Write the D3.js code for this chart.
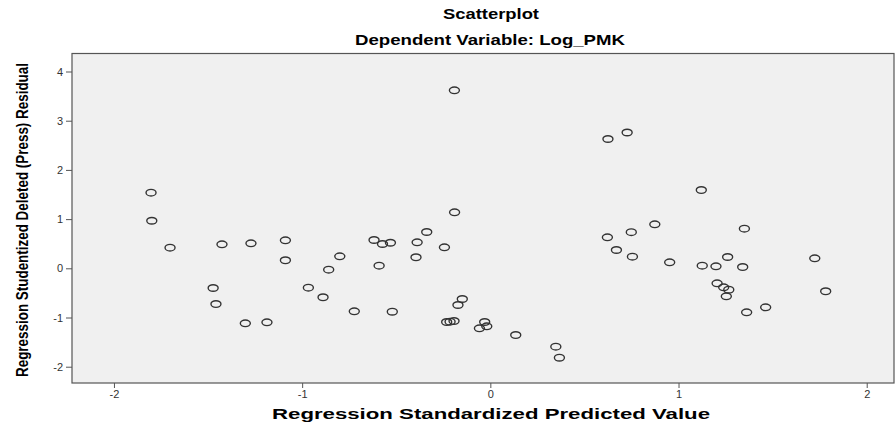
<!DOCTYPE html>
<html>
<head>
<meta charset="utf-8">
<script src="https://cdn.jsdelivr.net/npm/d3@7"></script>
<style>
  body { margin: 0; background: #fff; }
  text { font-family: "Liberation Sans", Arial, sans-serif; }
</style>
</head>
<body>
<div id="graph"></div>
<script>
// values
var predicted = [-1.803, -1.799, -1.702, -1.426, -1.272, -1.089, -1.089, -0.800, -0.859, -0.618,
  -0.573, -0.531, -0.591, -1.473, -1.458, -1.302, -1.187, -0.967, -0.889, -0.723,
  -0.521, -0.190, -0.338, -0.389, -0.244, -0.395, -0.149, -0.172, -0.232, -0.214,
  -0.193, -0.030, -0.019, -0.058, 0.135, 0.348, 0.367, 0.622, 0.749, 0.670,
  0.755, -0.191, 0.625, 0.727, 1.121, 0.874, 1.350, 0.953, 1.126, 1.199,
  1.261, 1.341, 1.724, 1.205, 1.240, 1.267, 1.254, 1.782, 1.463, 1.362];
var residual = [1.537, 0.967, 0.419, 0.488, 0.508, 0.569, 0.163, 0.244, -0.028, 0.575,
  0.494, 0.520, 0.053, -0.400, -0.726, -1.118, -1.098, -0.394, -0.589, -0.874,
  -0.882, 1.138, 0.738, 0.528, 0.427, 0.224, -0.624, -0.746, -1.091, -1.085,
  -1.071, -1.091, -1.179, -1.220, -1.356, -1.593, -1.817, 0.630, 0.734, 0.372,
  0.236, 3.618, 2.628, 2.760, 1.591, 0.894, 0.805, 0.122, 0.053, 0.041,
  0.230, 0.026, 0.203, -0.305, -0.386, -0.435, -0.569, -0.467, -0.793, -0.894];
var xTicks = [-2, -1, 0, 1, 2];
var yTicks = [-2, -1, 0, 1, 2, 3, 4];

var W = 896, H = 425;
var mLeft = 72, mTop = 53.5, plotW = 822, plotH = 329.5;

var svg = d3.select("#graph").append("svg")
  .attr("width", W)
  .attr("height", H);

var x = d3.scaleLinear().domain([-2.223, 2.145]).range([mLeft, mLeft + plotW]);
var y = d3.scaleLinear().domain([-2.331, 4.366]).range([mTop + plotH, mTop]);

// plot background + frame
svg.append("rect")
  .attr("x", mLeft).attr("y", mTop)
  .attr("width", plotW).attr("height", plotH)
  .attr("fill", "#f0f0f0")
  .attr("stroke", "#555")
  .attr("stroke-width", 1.2);

var xAxis = svg.append("g")
  .attr("transform", "translate(0," + (mTop + plotH) + ")")
  .call(d3.axisBottom(x).tickValues(xTicks).tickSize(5).tickPadding(2).tickFormat((d) => String(d)));
var yAxis = svg.append("g")
  .attr("transform", "translate(" + mLeft + ",0)")
  .call(d3.axisLeft(y).tickValues(yTicks).tickSize(6).tickPadding(3).tickFormat((d) => String(d)));

[xAxis, yAxis].forEach(function(g) {
  g.select(".domain").remove();
  g.selectAll(".tick line").attr("stroke", "#555");
  g.selectAll(".tick text")
    .attr("fill", "#333")
    .style("font-size", "11px")
    .style("font-family", "'Liberation Sans', Arial, sans-serif");
});

// points
svg.append("g").selectAll("ellipse")
  .data(predicted)
  .enter().append("ellipse")
  .attr("cx", (d) => x(d))
  .attr("cy", (d, i) => y(residual[i]))
  .attr("rx", 5)
  .attr("ry", 3.3)
  .attr("fill", "none")
  .attr("stroke", "#333")
  .attr("stroke-width", 1.4);

// titles (the original is stretched sideways, so fit the widths)
svg.append("text")
  .attr("x", 491).attr("y", 19)
  .attr("text-anchor", "middle")
  .attr("textLength", 96)
  .attr("lengthAdjust", "spacingAndGlyphs")
  .style("font-weight", "bold")
  .style("font-size", "15px")
  .text("Scatterplot");
svg.append("text")
  .attr("x", 490).attr("y", 45)
  .attr("text-anchor", "middle")
  .attr("textLength", 270)
  .attr("lengthAdjust", "spacingAndGlyphs")
  .style("font-weight", "bold")
  .style("font-size", "15px")
  .text("Dependent Variable: Log_PMK");

svg.append("text")
  .attr("x", 491).attr("y", 419)
  .attr("text-anchor", "middle")
  .attr("textLength", 438)
  .attr("lengthAdjust", "spacingAndGlyphs")
  .style("font-weight", "bold")
  .style("font-size", "15px")
  .text("Regression Standardized Predicted Value");

svg.append("text")
  .attr("transform", "translate(28,220) rotate(-90)")
  .attr("text-anchor", "middle")
  .attr("textLength", 314)
  .attr("lengthAdjust", "spacingAndGlyphs")
  .style("font-weight", "bold")
  .style("font-size", "17px")
  .text("Regression Studentized Deleted (Press) Residual");
</script>
</body>
</html>
